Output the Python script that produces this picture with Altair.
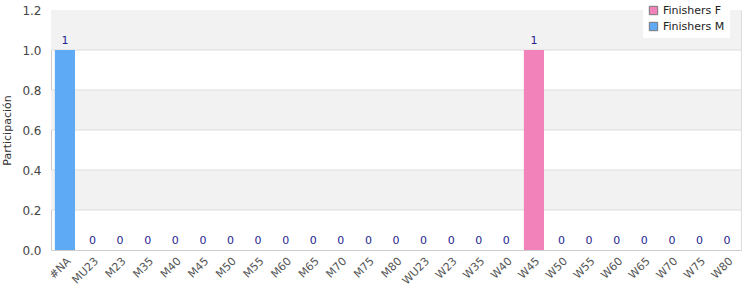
import altair as alt
import pandas as pd

categories = ["#NA", "MU23", "M23", "M35", "M40", "M45", "M50", "M55", "M60", "M65",
              "M70", "M75", "M80", "WU23", "W23", "W35", "W40", "W45", "W50", "W55",
              "W60", "W65", "W70", "W75", "W80"]
series = ["Finishers M"] * 13 + ["Finishers F"] * 12
values = [1, 0, 0, 0, 0, 0, 0, 0, 0, 0, 0, 0, 0,
          0, 0, 0, 0, 1, 0, 0, 0, 0, 0, 0, 0]
band_lo = [0.2, 0.6, 1.0]
band_hi = [0.4, 0.8, 1.2]
grid_vals = [0.2, 0.4, 0.6, 0.8, 1.0]
y_ticks = [0, 0.2, 0.4, 0.6, 0.8, 1.0, 1.2]

df = pd.DataFrame({"cat": categories, "series": series, "value": values})
bands = pd.DataFrame({"lo": band_lo, "hi": band_hi})
grid = pd.DataFrame({"g": grid_vals})

font = "DejaVu Sans"
xenc = alt.X("cat:N", sort=categories, title=None,
             scale=alt.Scale(paddingInner=0.27, paddingOuter=0.14),
             axis=alt.Axis(labelAngle=-45, labelFontSize=11, labelColor="#555",
                           labelFont=font, ticks=False, domainColor="#ccc",
                           labelPadding=5, labelOverlap=False))
yscale = alt.Scale(domain=[0, 1.2], nice=False)
yaxis = alt.Axis(values=y_ticks, format=".1f",
                 labelFontSize=12, labelColor="#444", labelFont=font,
                 labelOverlap=False, labelPadding=10,
                 titleFont=font, titleFontSize=11, titleFontWeight="normal",
                 titleColor="#333", ticks=False, domainColor="#ccc",
                 grid=False, titlePadding=9)
ytitle = "Participación"

bg = alt.Chart(bands).mark_rect(color="#f2f2f2").encode(
    y=alt.Y("lo:Q", scale=yscale, axis=yaxis, title=ytitle),
    y2="hi:Q",
    x=alt.value(0), x2=alt.value(690),
)

gridlines = alt.Chart(grid).mark_rule(color="#dddddd", strokeWidth=1).encode(
    y=alt.Y("g:Q", scale=yscale, axis=yaxis, title=ytitle),
    x=alt.value(0), x2=alt.value(690),
)

bars = alt.Chart(df).mark_bar().encode(
    x=xenc,
    y=alt.Y("value:Q", scale=yscale, axis=yaxis, title=ytitle),
    color=alt.Color("series:N",
                    scale=alt.Scale(domain=["Finishers F", "Finishers M"],
                                    range=["#f283ba", "#5faaf5"]),
                    legend=alt.Legend(title=None, orient="none", legendX=592, legendY=-10,
                                      fillColor="white", symbolType="square",
                                      symbolStrokeColor="#777", symbolStrokeWidth=1,
                                      symbolSize=70, labelFont=font, labelFontSize=11,
                                      labelColor="#222", padding=5, rowPadding=3)),
)

labels = alt.Chart(df).mark_text(dy=-9, fontSize=11, font=font, color="#26268f").encode(
    x=alt.X("cat:N", sort=categories),
    y=alt.Y("value:Q", scale=yscale, axis=yaxis, title=ytitle),
    text="value:Q",
)

chart = alt.layer(bg, gridlines, bars, labels).properties(
    width=690, height=240,
    padding={"left": 51, "top": 10, "right": 9, "bottom": 50},
    autosize=alt.AutoSizeParams(type="none"),
).configure_view(stroke="#ddd")

chart.save("out.html", embed_options={"renderer": "svg", "actions": False})
